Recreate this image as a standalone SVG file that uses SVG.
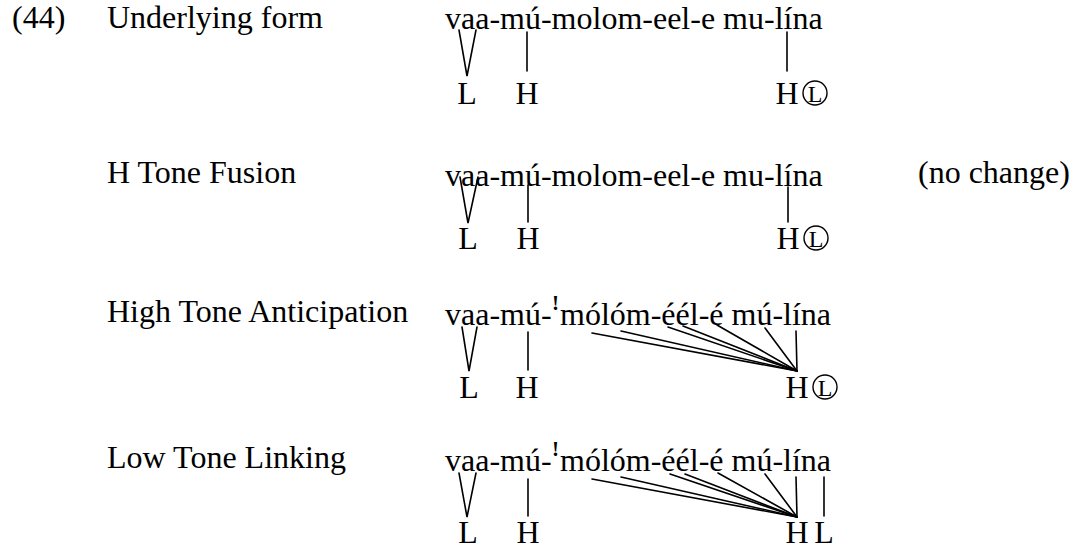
<svg xmlns="http://www.w3.org/2000/svg" width="1076" height="548" viewBox="0 0 1076 548">
<style>
text{font-family:"Liberation Serif","Times New Roman",serif;font-size:32px;fill:#000}
.sup{font-size:21px;font-weight:bold}
.c{text-anchor:middle}
.sm{font-size:24px}
.ln{stroke:#000;stroke-width:1.6;fill:none;stroke-linecap:round}
.circ{fill:none;stroke:#000;stroke-width:1.4}
</style>
<rect width="1076" height="548" fill="#fff"/>
<g id="row1">
<text x="12" y="28">(44)</text>
<text x="107" y="28">Underlying form</text>
<text x="445" y="29">vaa-mú-molom-eel-e mu-lína</text>
<text class="c" x="467" y="104">L</text>
<text class="c" x="527" y="104">H</text>
<text class="c" x="787" y="104">H</text>
<circle class="circ" cx="815" cy="93" r="12"/>
<text class="c sm" x="815" y="102">L</text>
</g>
<g id="row2">
<text x="107" y="183">H Tone Fusion</text>
<text x="445" y="186">vaa-mú-molom-eel-e mu-lína</text>
<text x="918" y="183">(no change)</text>
<text class="c" x="468" y="249">L</text>
<text class="c" x="528" y="249">H</text>
<text class="c" x="788" y="249">H</text>
<circle class="circ" cx="816" cy="238" r="12"/>
<text class="c sm" x="816" y="247">L</text>
</g>
<g id="row3">
<text x="107" y="322">High Tone Anticipation</text>
<text x="445" y="325">vaa-mú-</text>
<text class="sup" x="552" y="310">!</text>
<text x="560" y="325">mólóm-éél-é mú-lína</text>
<text class="c" x="469" y="398">L</text>
<text class="c" x="527" y="398">H</text>
<text class="c" x="797" y="398">H</text>
<circle class="circ" cx="825" cy="387" r="12"/>
<text class="c sm" x="825" y="396">L</text>
</g>
<g id="row4">
<text x="107" y="468">Low Tone Linking</text>
<text x="445" y="471">vaa-mú-</text>
<text class="sup" x="552" y="456">!</text>
<text x="560" y="471">mólóm-éél-é mú-lína</text>
<text class="c" x="468" y="543">L</text>
<text class="c" x="528" y="543">H</text>
<text class="c" x="797" y="543">H</text>
<text class="c" x="824" y="543">L</text>
</g>
<g id="connectors">
<polyline class="ln" points="459,30 467,76 476,30"/>
<line class="ln" x1="527" y1="32" x2="527" y2="71"/>
<line class="ln" x1="787" y1="32" x2="787" y2="71"/>
<polyline class="ln" points="460,177 468,223 478,177"/>
<line class="ln" x1="528" y1="185" x2="528" y2="222"/>
<line class="ln" x1="788" y1="187" x2="788" y2="222"/>
<polyline class="ln" points="462,327 469,371 477,327"/>
<line class="ln" x1="528" y1="332" x2="528" y2="370"/>
<line class="ln" x1="592" y1="333" x2="797" y2="371"/>
<line class="ln" x1="621" y1="331" x2="797" y2="371"/>
<line class="ln" x1="668" y1="327" x2="797" y2="371"/>
<line class="ln" x1="683" y1="326" x2="797" y2="371"/>
<line class="ln" x1="717" y1="325" x2="797" y2="371"/>
<line class="ln" x1="765" y1="328" x2="797" y2="371"/>
<line class="ln" x1="796" y1="331" x2="797" y2="371"/>
<polyline class="ln" points="459,473 467,517 476,473"/>
<line class="ln" x1="528" y1="479" x2="528" y2="516"/>
<line class="ln" x1="592" y1="479" x2="797" y2="517"/>
<line class="ln" x1="621" y1="477" x2="797" y2="517"/>
<line class="ln" x1="670" y1="474" x2="797" y2="517"/>
<line class="ln" x1="685" y1="474" x2="797" y2="517"/>
<line class="ln" x1="718" y1="473" x2="797" y2="517"/>
<line class="ln" x1="765" y1="474" x2="797" y2="517"/>
<line class="ln" x1="796" y1="477" x2="797" y2="517"/>
<line class="ln" x1="824" y1="477" x2="824" y2="516"/>
</g>
</svg>
